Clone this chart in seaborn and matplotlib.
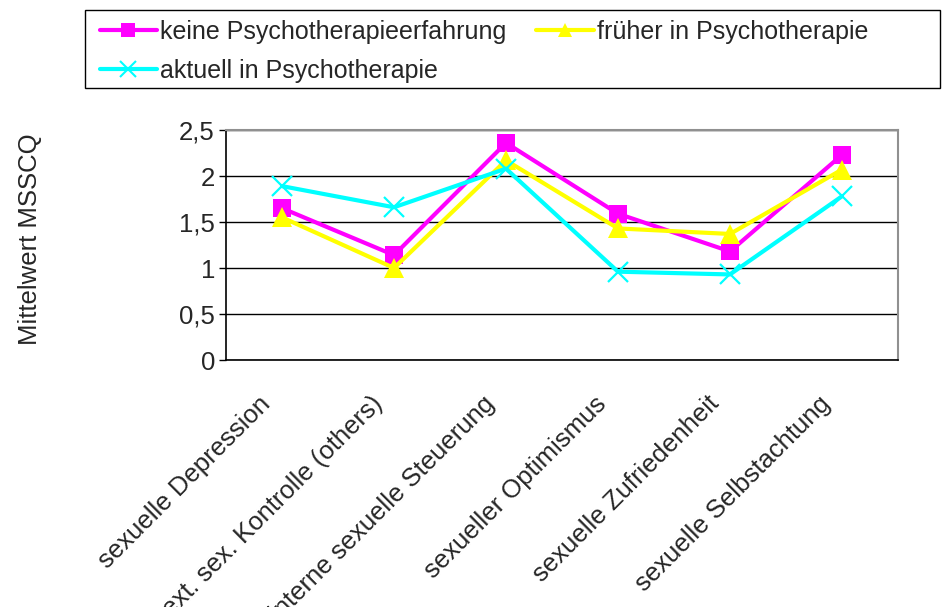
import matplotlib
matplotlib.use("Agg")
import matplotlib.pyplot as plt
import matplotlib.transforms as mtransforms
import seaborn as sns
import pandas as pd
from matplotlib.lines import Line2D
from matplotlib.patches import Rectangle

categories = ["sexuelle Depression", "ext. sex. Kontrolle (others)", "interne sexuelle Steuerung",
              "sexueller Optimismus", "sexuelle Zufriedenheit", "sexuelle Selbstachtung"]
series_names = ["keine Psychotherapieerfahrung", "früher in Psychotherapie", "aktuell in Psychotherapie"]
keine = [1.65, 1.14, 2.36, 1.59, 1.18, 2.23]
frueher = [1.55, 1.00, 2.17, 1.43, 1.37, 2.07]
aktuell = [1.89, 1.66, 2.08, 0.96, 0.93, 1.78]
yticks = [0, 0.5, 1, 1.5, 2, 2.5]
ytick_labels = ["0", "0,5", "1", "1,5", "2", "2,5"]

colors = {series_names[0]: "#FF00FF", series_names[1]: "#FFFF00", series_names[2]: "#00FFFF"}
markers = {series_names[0]: "s", series_names[1]: "^", series_names[2]: "x"}

rows = []
for name, vals in zip(series_names, [keine, frueher, aktuell]):
    for i, v in enumerate(vals):
        rows.append({"pos": i, "cat": categories[i], "value": v, "series": name})
df = pd.DataFrame(rows)

sns.set_theme(style="white")
plt.rcParams['font.family'] = ['Liberation Sans', 'DejaVu Sans']
FS = 18.5

fig = plt.figure(figsize=(9.42, 6.07), dpi=100)
ax = fig.add_axes([226/942, (607-360)/607, (898-226)/942, 230/607])

msize = {"s": 13.5, "^": 14.5, "x": 15}
for name in series_names:
    sub = df[df["series"] == name]
    m = markers[name]
    sns.lineplot(data=sub, x="pos", y="value", color=colors[name], marker=m,
                 linewidth=3, markersize=msize[m],
                 markeredgewidth=(1.6 if m == "x" else 0), markeredgecolor=colors[name],
                 ax=ax, legend=False, sort=False)

ax.set_xlim(-0.5, 5.5)
ax.set_ylim(0, 2.5)
ax.set_yticks(yticks)
ax.set_yticklabels(ytick_labels, fontsize=FS)
ax.set_xticks(range(len(categories)))
ax.set_xticklabels(categories, rotation=45, ha="right", va="center",
                   rotation_mode="anchor", fontsize=FS)
ax.tick_params(axis="x", length=0, pad=26)
ax.tick_params(axis="y", direction="out", length=5, width=1, color="black", left=True, pad=3)
offset = mtransforms.ScaledTranslation(-15/100, -4/100, fig.dpi_scale_trans)
for lbl in ax.get_xticklabels():
    lbl.set_transform(lbl.get_transform() + offset)
ax.yaxis.grid(True, color="black", linewidth=1)
ax.xaxis.grid(False)
ax.set_axisbelow(True)
ax.set_xlabel("")
ax.set_ylabel("")
for s in ["left", "bottom"]:
    ax.spines[s].set_color("black")
    ax.spines[s].set_linewidth(1.2)
for s in ["top", "right"]:
    ax.spines[s].set_color("#909090")
    ax.spines[s].set_linewidth(1.5)

fig.text(30/942, 1 - 239/607, "Mittelwert MSSCQ", rotation=90, ha="center", va="center", fontsize=FS)

# legend frame
fig.patches.append(Rectangle((85/942, 1 - 88/607), (940-85)/942, 78/607,
                             transform=fig.transFigure, facecolor="white",
                             edgecolor="black", linewidth=1, zorder=0))

order = [series_names[0], series_names[2], series_names[1]]
handles = [Line2D([0], [0], color=colors[n], marker=markers[n], linewidth=3,
                  markersize=(10 if markers[n] != "x" else 12),
                  markeredgewidth=(1.5 if markers[n] == "x" else 0)) for n in order]
leg = fig.legend(handles, order, loc="upper left", bbox_to_anchor=(82/942, 1 - 2/607),
                 ncol=2, frameon=False, fontsize=18, handlelength=2.3,
                 handletextpad=0.12, columnspacing=1.2, borderpad=0.2, labelspacing=0.62)

fig.savefig("out.png", dpi=100)
